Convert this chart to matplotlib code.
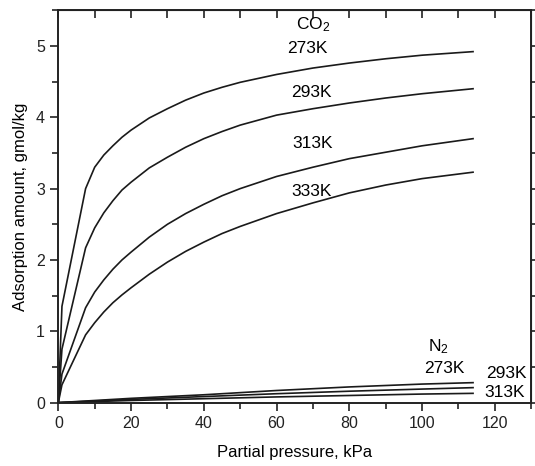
import matplotlib
matplotlib.use('Agg')
import matplotlib.pyplot as plt
from matplotlib.ticker import MultipleLocator

# partial pressure points (kPa) and adsorbed amounts (gmol/kg)
p_co2 = [0, 1, 7.5, 10, 12.5, 15, 17.5, 20, 25, 30, 35, 40, 45, 50, 60, 70, 80, 90, 100, 114]
co2_273 = [0, 1.35, 3.0, 3.3, 3.47, 3.6, 3.72, 3.82, 3.99, 4.12, 4.24, 4.34, 4.42, 4.49, 4.6, 4.69, 4.76, 4.82, 4.87, 4.92]
co2_293 = [0, 0.75, 2.17, 2.45, 2.66, 2.83, 2.98, 3.09, 3.29, 3.44, 3.58, 3.7, 3.8, 3.89, 4.03, 4.12, 4.2, 4.27, 4.33, 4.40]
co2_313 = [0, 0.4, 1.33, 1.55, 1.72, 1.87, 2.0, 2.11, 2.32, 2.5, 2.65, 2.78, 2.9, 3.0, 3.17, 3.3, 3.42, 3.51, 3.6, 3.70]
co2_333 = [0, 0.25, 0.95, 1.12, 1.27, 1.4, 1.51, 1.61, 1.8, 1.97, 2.12, 2.25, 2.37, 2.47, 2.65, 2.8, 2.94, 3.05, 3.14, 3.23]

p_n2 = [0, 20, 40, 60, 80, 100, 114]
n2_273 = [0, 0.06, 0.11, 0.17, 0.22, 0.26, 0.28]
n2_293 = [0, 0.045, 0.085, 0.125, 0.16, 0.19, 0.21]
n2_313 = [0, 0.03, 0.055, 0.08, 0.1, 0.12, 0.13]

plt.rcParams['font.family'] = ['Liberation Sans', 'DejaVu Sans']
plt.rcParams['mathtext.fontset'] = 'custom'
plt.rcParams['mathtext.rm'] = 'Liberation Sans'
plt.rcParams['mathtext.it'] = 'Liberation Sans'

fig = plt.figure(figsize=(5.35, 4.66), dpi=100)
ax = fig.add_axes([0.109, 0.136, 0.884, 0.842])

for y in (co2_273, co2_293, co2_313, co2_333):
	ax.plot(p_co2, y, color='#1a1a1a', linewidth=1.2)
for y in (n2_273, n2_293, n2_313):
	ax.plot(p_n2, y, color='#1a1a1a', linewidth=1.2)

ax.set_xlim(0, 130)
ax.set_ylim(0, 5.5)
ax.xaxis.set_major_locator(MultipleLocator(20))
ax.xaxis.set_minor_locator(MultipleLocator(10))
ax.yaxis.set_major_locator(MultipleLocator(1))
ax.yaxis.set_minor_locator(MultipleLocator(0.5))

for s in ax.spines.values():
	s.set_linewidth(1.4)
	s.set_color('#222222')

ax.tick_params(which='both', direction='out', width=1.2, colors='#222222', labelsize=11.5)
ax.tick_params(which='major', length=6)
ax.tick_params(which='minor', length=4)

# mirrored axes: top ticks point in, right ticks point out
top = ax.secondary_xaxis('top')
top.xaxis.set_major_locator(MultipleLocator(10))
top.tick_params(direction='in', length=6, width=1.2, labeltop=False, colors='#222222')
right = ax.secondary_yaxis('right')
right.yaxis.set_major_locator(MultipleLocator(0.5))
right.tick_params(direction='out', length=3, width=1.2, labelright=False, colors='#222222')

ax.set_xlabel('Partial pressure, kPa', fontsize=12, labelpad=10)
ax.set_ylabel('Adsorption amount, gmol/kg', fontsize=12, labelpad=6)

ax.text(70, 5.3, 'CO$_2$', fontsize=12.5, ha='center', va='center')
ax.text(68.5, 4.97, '273K', fontsize=12.5, ha='center', va='center')
ax.text(69.5, 4.35, '293K', fontsize=12.5, ha='center', va='center')
ax.text(70, 3.63, '313K', fontsize=12.5, ha='center', va='center')
ax.text(69.5, 2.96, '333K', fontsize=12.5, ha='center', va='center')

ax.text(104.5, 0.78, 'N$_2$', fontsize=12.5, ha='center', va='center')
ax.text(106.2, 0.48, '273K', fontsize=12.5, ha='center', va='center')
ax.text(123.2, 0.41, '293K', fontsize=12.5, ha='center', va='center')
ax.text(122.8, 0.14, '313K', fontsize=12.5, ha='center', va='center')

fig.savefig('out.png', dpi=100)
